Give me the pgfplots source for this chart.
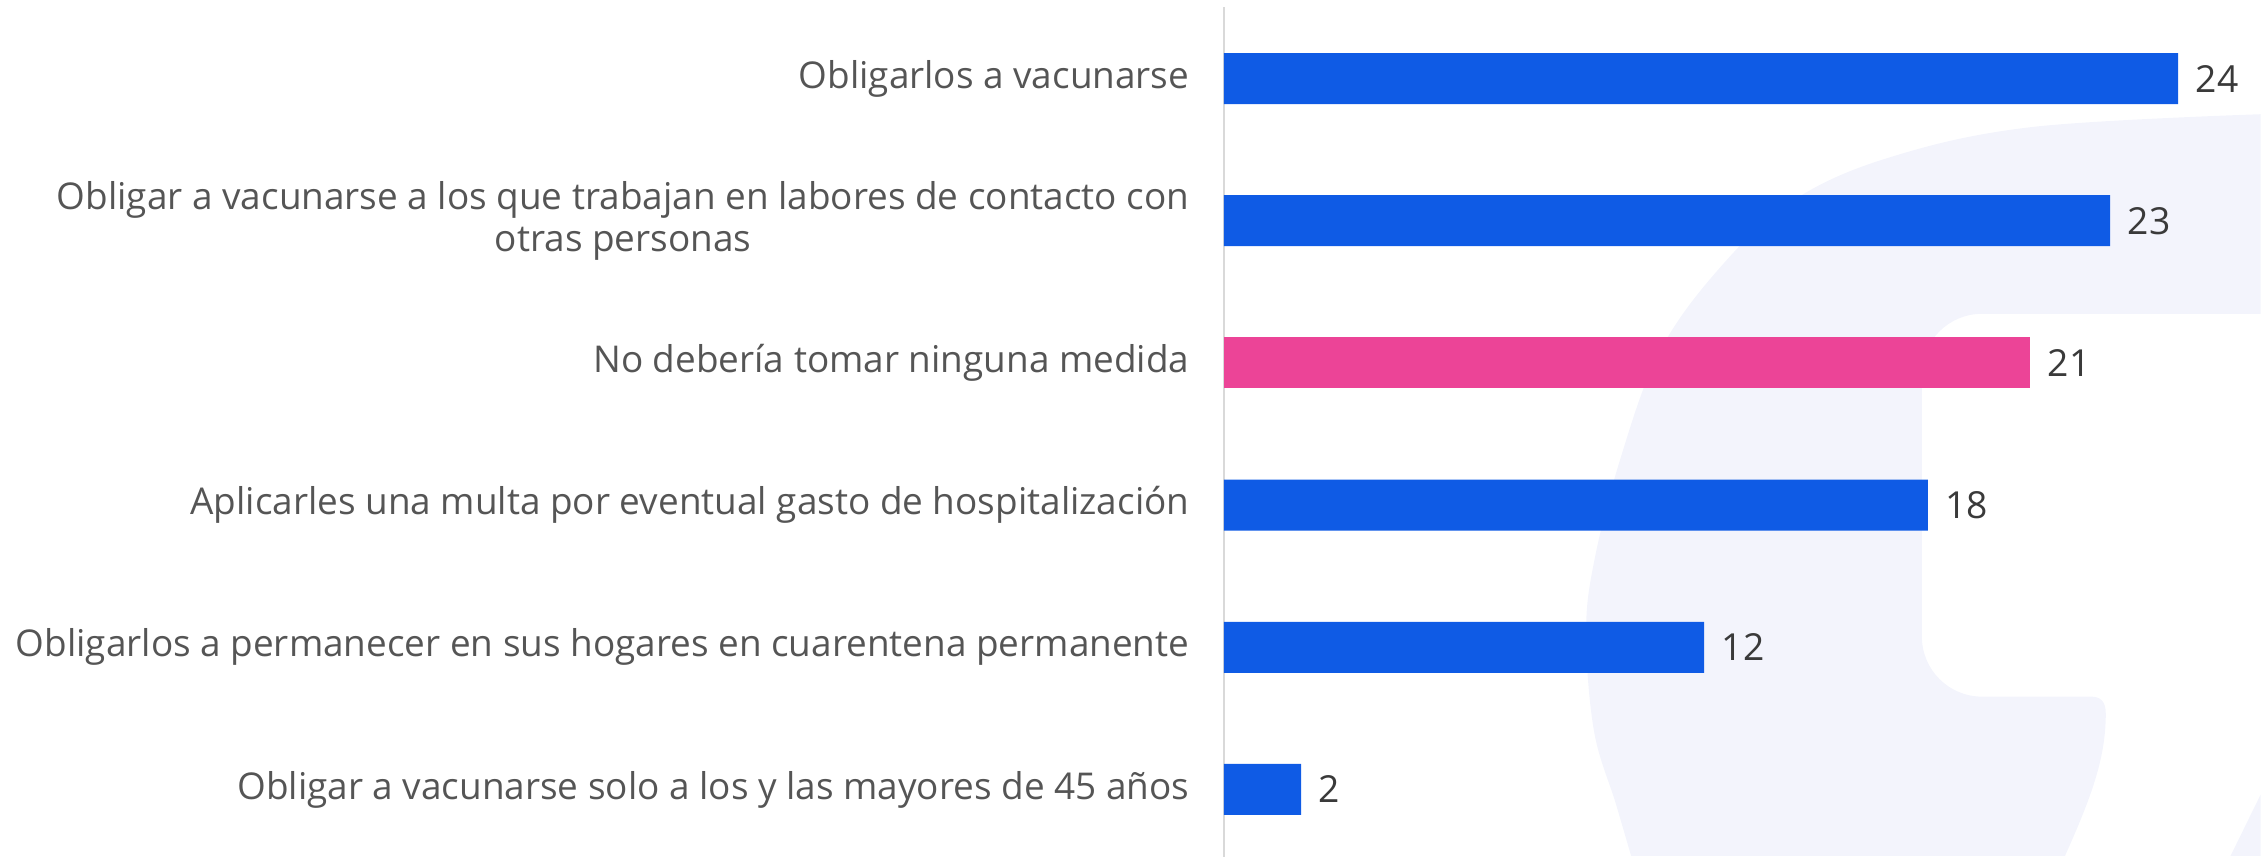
\documentclass[border=0pt]{standalone}
\usepackage{pgfplots}
\pgfplotsset{compat=1.18}
\usepackage{fontspec}
\setmainfont{Open Sans}
\definecolor{barblue}{HTML}{0F5BE5}
\definecolor{barpink}{HTML}{EC4497}
\definecolor{lav}{HTML}{F3F4FC}
\definecolor{lbl}{HTML}{555555}
\definecolor{num}{HTML}{3A3A3A}
\definecolor{axl}{HTML}{D9D9D9}
\pgfplotstableread{
y x label
0 24.0 24
1 22.29 23
3 17.71 18
4 12.08 12
5 1.94 2
}\bluedata
\pgfplotstableread{
y x label
2 20.28 21
}\pinkdata
\begin{document}
\begin{tikzpicture}
\useasboundingbox (0,0) rectangle (22.62cm,8.56cm);
\begin{scope}[x=0.01cm,y=-0.01cm,yshift=8.56cm]
\clip (0,0) rectangle (2262,856);
\fill[lav] plot[smooth,tension=0.6] coordinates {(2270,114) (2034,127) (1889,158) (1792,202) (1719,270) (1660,353) (1621,460) (1595,562) (1587,634) (1595,732) (1617,805) (1636,870)}
 -- (2060,870) .. controls (2092,800) and (2107,760) .. (2107,714) .. controls (2107,702) and (2102,697) .. (2092,697)
 [rounded corners=0.6cm] -- (1923,697) -- (1923,314) [sharp corners] -- (2270,314) -- cycle;
\fill[lav] (2225,870) .. controls (2240,840) and (2252,815) .. (2262,795) -- (2270,870) -- cycle;
\end{scope}
\begin{axis}[
  at={(12.24cm,8.486cm)}, anchor=north west,
  scale only axis, width=10.335cm, height=8.532cm,
  xmin=0, xmax=26, ymin=-0.5, ymax=5.5, y dir=reverse,
  xbar, bar width=0.51cm, bar shift=0pt,
  axis x line=none, axis y line=left,
  y axis line style={-, draw=axl, line width=0.02cm},
  ytick={0,1,2,3,4,5}, major tick length=0pt,
  yticklabels={Obligarlos a vacunarse, {Obligar a vacunarse a los que trabajan en labores de contacto con\\otras personas}, No debería tomar ninguna medida, Aplicarles una multa por eventual gasto de hospitalización, Obligarlos a permanecer en sus hogares en cuarentena permanente, Obligar a vacunarse solo a los y las mayores de 45 años},
  yticklabel style={align=center, anchor=east, inner sep=0pt, xshift=-0.34cm, text=lbl, font=\fontsize{10.5}{12}\selectfont},
  point meta=explicit symbolic,
  nodes near coords={\pgfplotspointmeta},
  nodes near coords style={anchor=west, inner sep=0pt, xshift=0.17cm, text=num, font=\fontsize{10.6}{12}\selectfont},
  clip=false,
]
\addplot[fill=barblue, draw=none] table[x=x, y=y, meta=label] {\bluedata};
\addplot[fill=barpink, draw=none] table[x=x, y=y, meta=label] {\pinkdata};
\end{axis}
\end{tikzpicture}
\end{document}
